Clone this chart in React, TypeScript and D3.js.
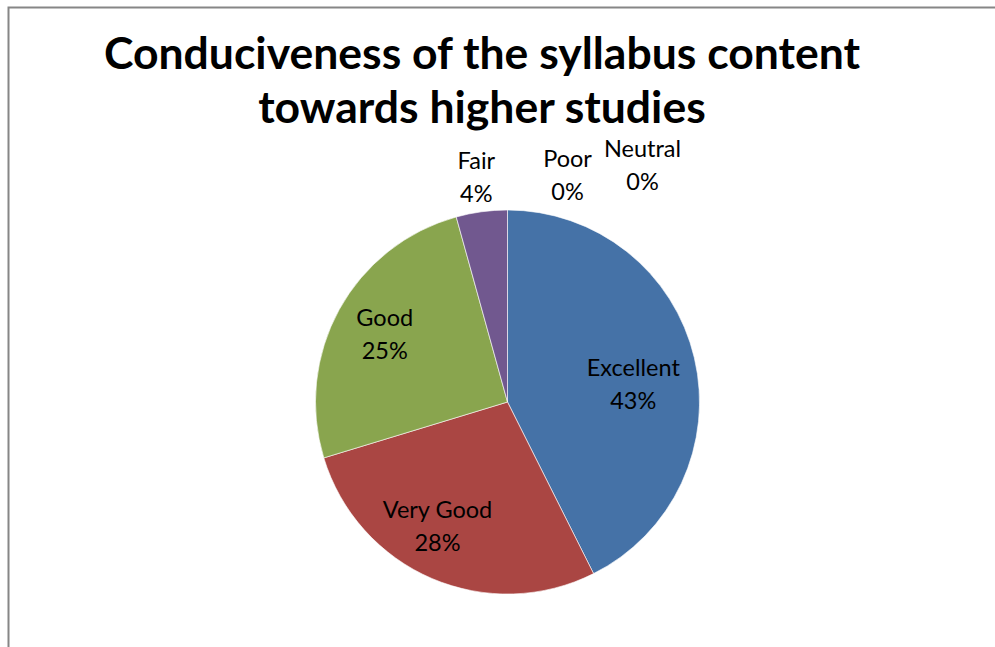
import React, { useEffect, useRef } from 'react';
import * as d3 from 'd3';

// Survey categories and their shares (percent)
const categories = ["Excellent", "Very Good", "Good", "Fair", "Poor", "Neutral"];
const shares = [42.6, 27.7, 25.4, 4.3, 0, 0];
const colors = ["#4572A7", "#AA4643", "#89A54E", "#71588F", "#4198AF", "#DB843D"];
const titleLines = ["Conduciveness of the syllabus content", "towards higher studies"];

const W = 995;
const H = 647;
const FONT = "Lato, 'Open Sans', sans-serif";

const App = () => {
  const svgRef = useRef<SVGSVGElement>(null);

  useEffect(() => {
    const svg = d3.select(svgRef.current);
    svg.selectAll("*").remove();

    // chart frame (runs off the right and bottom edge)
    svg.append("rect")
      .attr("x", 8.5).attr("y", 7.5)
      .attr("width", W + 20).attr("height", H + 20)
      .attr("fill", "#fff")
      .attr("stroke", "#868686").attr("stroke-width", 2);

    // title
    svg.append("g").selectAll("text")
      .data(titleLines)
      .join("text")
      .attr("x", 482)
      .attr("y", (d, i) => 69 + i * 54)
      .attr("text-anchor", "middle")
      .attr("font-family", FONT)
      .attr("font-weight", "bold")
      .attr("font-size", 44.5)
      .attr("fill", "#000")
      .text(d => d);

    const cx = 507.5, cy = 402, r = 192;
    const data = categories.map((c, i) => ({ name: c, value: shares[i] }));
    const total = d3.sum(shares);

    const pie = d3.pie<any>().value(d => d.value).sort(null);
    const arcs = pie(data);
    const arc = d3.arc<any>().innerRadius(0).outerRadius(r);
    const labelArc = d3.arc<any>().innerRadius(r * 0.7).outerRadius(r * 0.7);

    const g = svg.append("g").attr("transform", `translate(${cx},${cy})`);

    g.selectAll("path")
      .data(arcs.filter(a => a.data.value > 0))
      .join("path")
      .attr("d", arc)
      .attr("fill", (d: any) => colors[d.index])
      .attr("stroke", "#fff")
      .attr("stroke-width", 0.6);

    // small slices get their labels outside, spread out so they don't collide
    const outside: Record<string, { angle: number; dist: number }> = {
      Fair: { angle: -8, dist: 224 },
      Poor: { angle: 15, dist: 232 },
      Neutral: { angle: 30, dist: 270 },
    };
    // Excel's best-fit placement is a bit off the centroid
    const nudge: Record<string, [number, number]> = {
      Excellent: [-5, 16],
      "Very Good": [-17, 3],
      Good: [-5, 0],
    };

    const labels = g.selectAll("g.lbl")
      .data(arcs)
      .join("g")
      .attr("class", "lbl")
      .attr("transform", (d: any) => {
        const o = outside[d.data.name];
        if (o) {
          const a = (o.angle * Math.PI) / 180;
          return `translate(${Math.sin(a) * o.dist},${-Math.cos(a) * o.dist})`;
        }
        const [x, y] = labelArc.centroid(d);
        const [nx, ny] = nudge[d.data.name] || [0, 0];
        return `translate(${x + nx},${y + ny})`;
      });

    labels.append("text")
      .attr("text-anchor", "middle")
      .attr("font-family", FONT)
      .attr("font-size", 23.5)
      .attr("fill", "#000")
      .selectAll("tspan")
      .data((d: any) => [d.data.name, `${Math.round((d.data.value / total) * 100)}%`])
      .join("tspan")
      .attr("x", 0)
      .attr("y", (d, i) => (i === 0 ? -11 : 22))
      .text(d => d);
  }, []);

  return (
    <svg
      ref={svgRef}
      width={W}
      height={H}
      style={{ position: "absolute", left: 0, top: 0, background: "#fff" }}
    />
  );
};

export default App;
